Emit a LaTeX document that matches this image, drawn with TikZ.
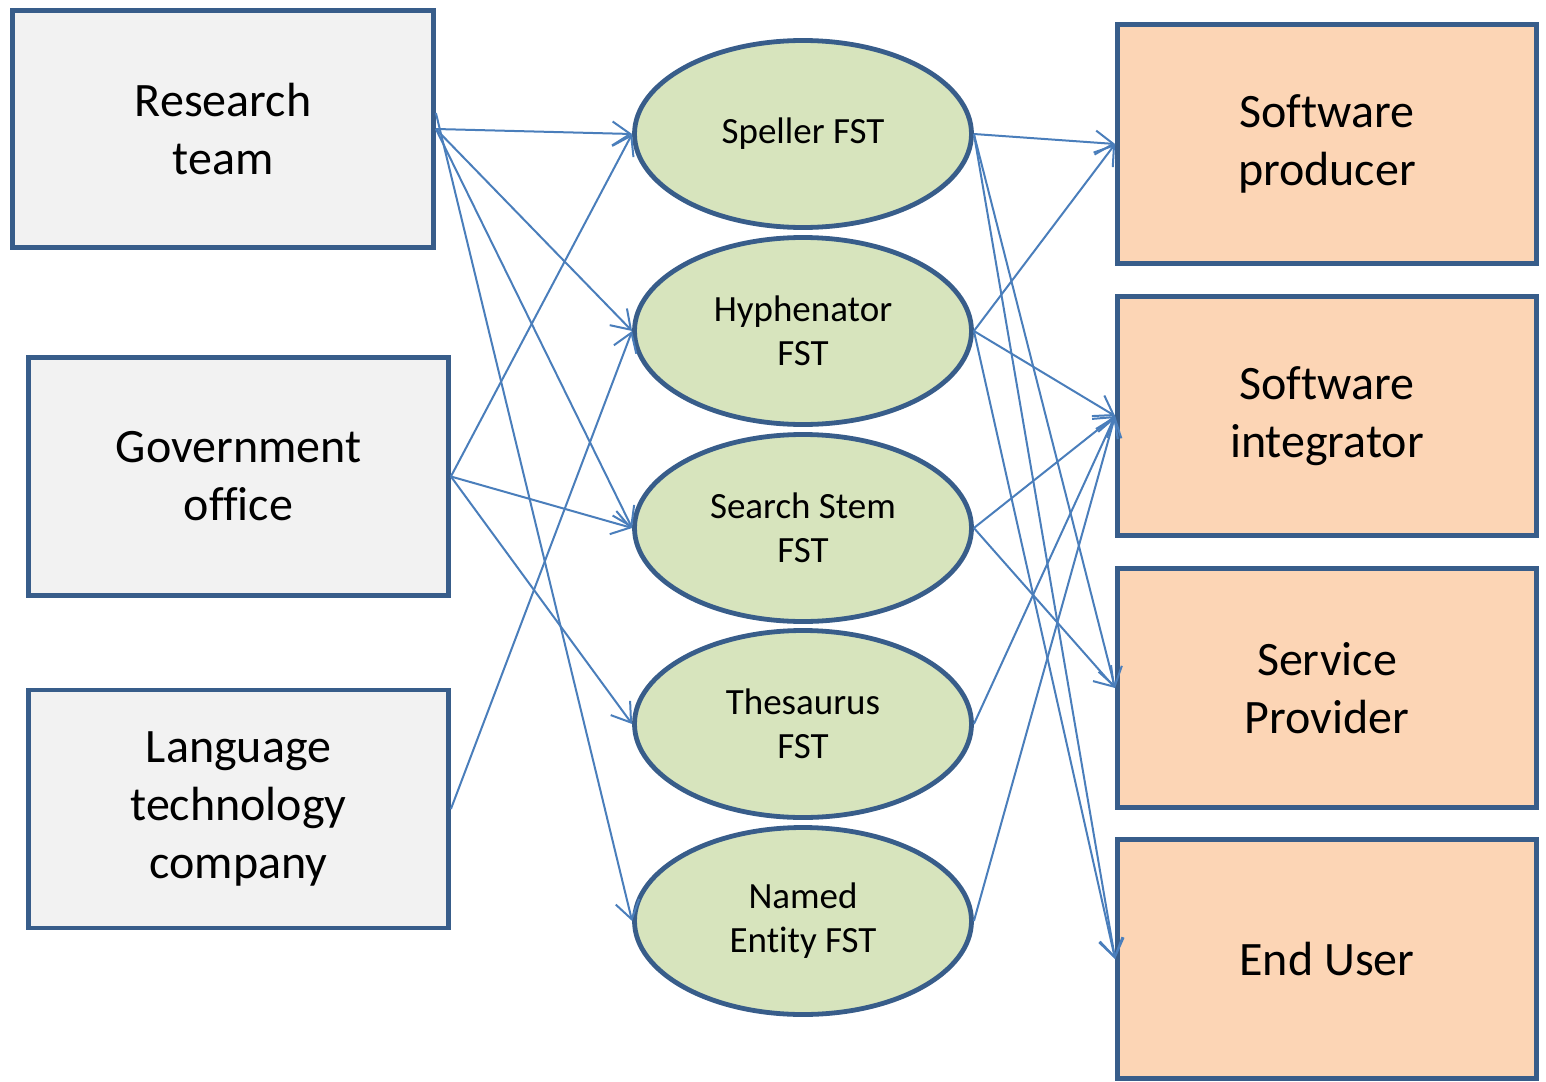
\documentclass[tikz,border=0pt]{standalone}
\usepackage{fontspec}
\setmainfont[Ligatures=NoCommon]{Carlito}
\usetikzlibrary{arrows.meta,shapes.geometric}
\definecolor{edge}{HTML}{385D8A}
\definecolor{conn}{HTML}{4A7EBB}
\definecolor{greybox}{HTML}{F2F2F2}
\definecolor{greenell}{HTML}{D7E4BD}
\definecolor{peach}{HTML}{FCD5B5}
\tikzset{
  lbox/.style={draw=edge, line width=2.4pt, fill=greybox, rectangle, inner sep=0pt,
    align=center, font=\fontsize{24pt}{29pt}\selectfont},
  rbox/.style={draw=edge, line width=2.4pt, fill=peach, rectangle, inner sep=0pt,
    minimum width=209.5pt, minimum height=119.5pt,
    align=center, font=\fontsize{24pt}{29pt}\selectfont},
  fst/.style={draw=edge, line width=2.4pt, fill=greenell, ellipse, inner sep=0pt,
    minimum width=168.5pt, minimum height=93.5pt,
    align=center, font=\fontsize{18.5pt}{22pt}\selectfont},
  link/.style={draw=conn, line width=1pt, -{Straight Barb[length=9pt,width=12pt]}}
}
\begin{document}
\begin{tikzpicture}[x=0.5pt,y=-0.5pt]
\useasboundingbox (0,0) rectangle (1546,1081);
% left boxes
\node[lbox, minimum width=210.5pt, minimum height=118.5pt] (rt) at (223,129) {Research\\team};
\node[lbox, minimum width=210pt, minimum height=119pt] (go) at (238.5,476.5) {Government\\office};
\node[lbox, minimum width=210pt, minimum height=119pt] (lt) at (238.5,809) {Language\\technology\\company};
% ellipses
\node[fst] (sp) at (803,134) {Speller FST};
\node[fst] (hy) at (803,331) {Hyphenator\\FST};
\node[fst] (ss) at (803,528) {Search Stem\\FST};
\node[fst] (th) at (803,724) {Thesaurus\\FST};
\node[fst] (ne) at (803,921) {Named\\Entity FST};
% right boxes
\node[rbox] (pr) at (1327,144) {Software\\producer};
\node[rbox] (in) at (1327,416) {Software\\integrator};
\node[rbox] (sv) at (1327,688) {Service\\Provider};
\node[rbox] (eu) at (1327,959) {End User};
% left connectors
\draw[link] (rt.east) -- (sp.west);
\draw[link] (rt.east) -- (hy.west);
\draw[link] (rt.east) -- (ss.west);
\draw[link] ([yshift=8pt]rt.east) -- (ne.west);
\draw[link] (go.east) -- (sp.west);
\draw[link] (go.east) -- (ss.west);
\draw[link] (go.east) -- (th.west);
\draw[link] (lt.east) -- (hy.west);
% right connectors
\draw[link] (sp.east) -- (pr.west);
\draw[link] (sp.east) -- (sv.west);
\draw[link] (sp.east) -- (eu.west);
\draw[link] (hy.east) -- (pr.west);
\draw[link] (hy.east) -- (in.west);
\draw[link] (hy.east) -- (eu.west);
\draw[link] (ss.east) -- (in.west);
\draw[link] (ss.east) -- (sv.west);
\draw[link] (th.east) -- (in.west);
\draw[link] (ne.east) -- (in.west);
\end{tikzpicture}
\end{document}
